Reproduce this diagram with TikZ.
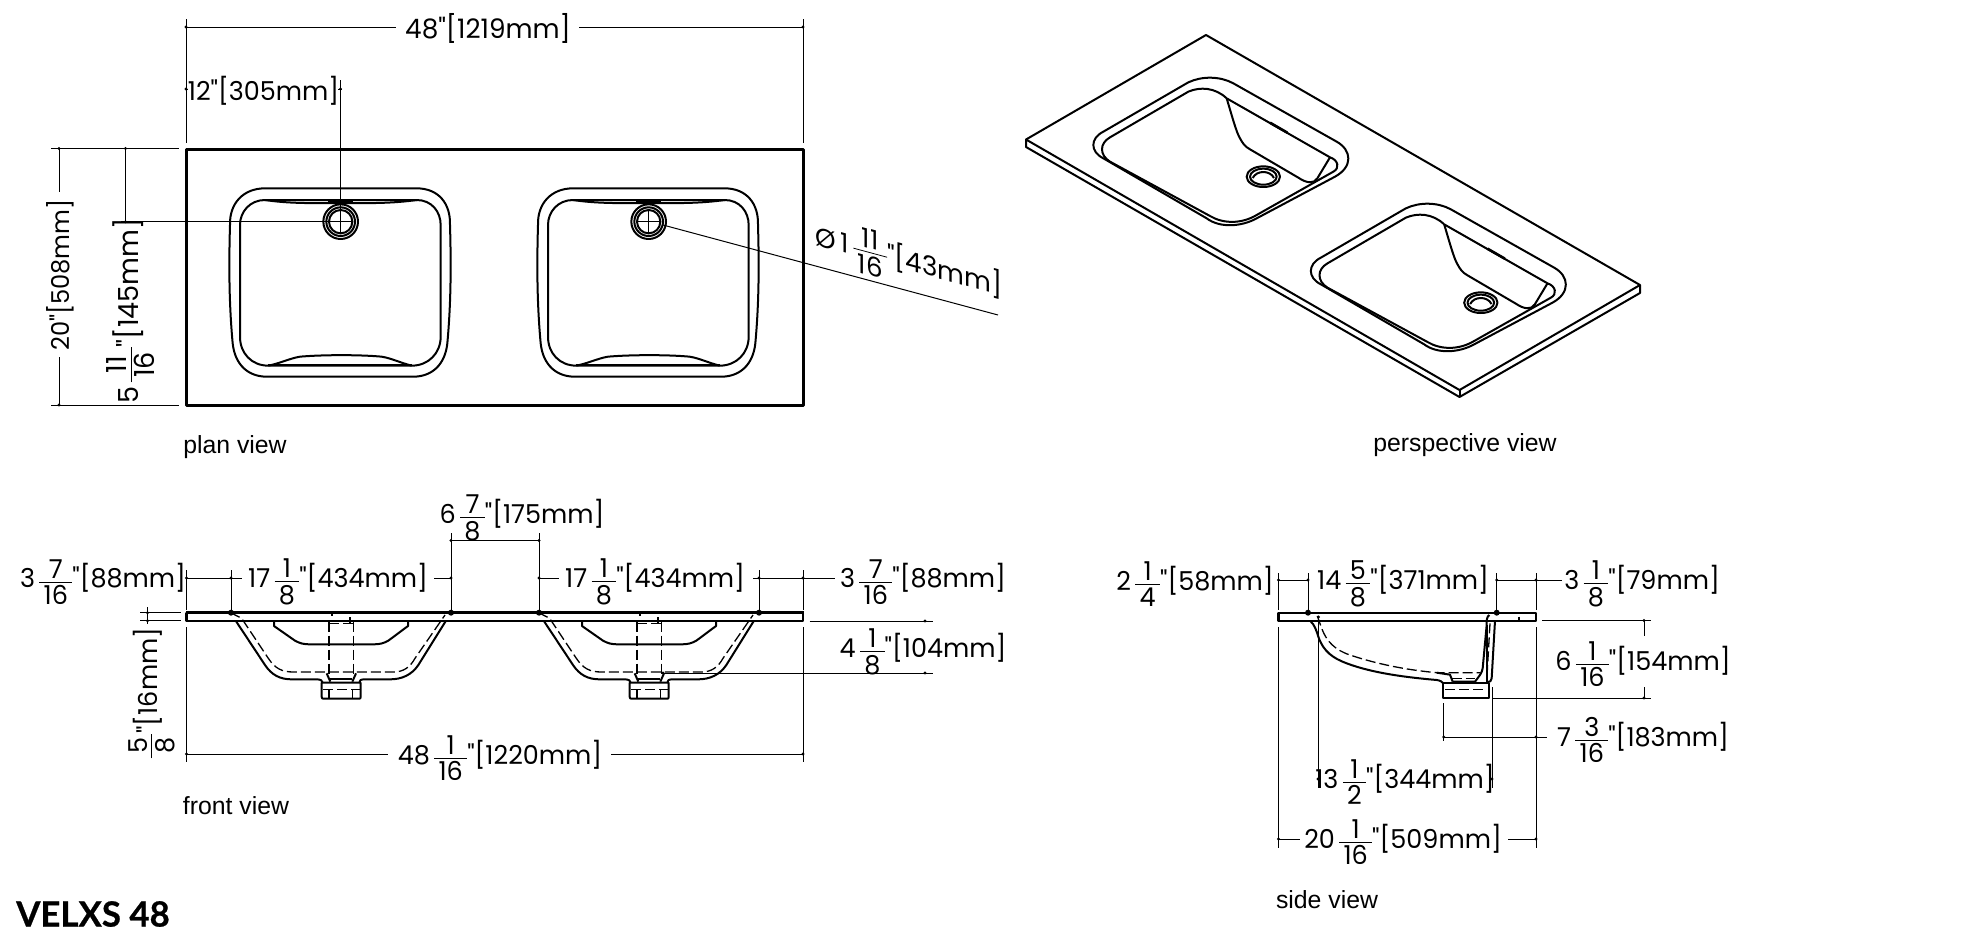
\documentclass[tikz,border=0pt]{standalone}
\usepackage{fontspec}
\setmainfont{Liberation Sans}
\newfontfamily\dimf[FakeStretch=0.98]{Poppins}
\newfontfamily\titlef[BoldFeatures={FakeBold=0.7}]{Lato}
\nulldelimiterspace=0pt
\newcommand\fr[2]{\ensuremath{\textstyle\frac{\mbox{\rule[-0.1em]{0pt}{0.1em}\,#1\,}}{\mbox{\rule{0pt}{0.82em}\,#2\,}}}}
\tikzset{
  dimlab/.style={inner sep=0pt,font=\dimf\fontsize{13}{15}\selectfont,anchor=center},
  viewlab/.style={inner sep=0pt,font=\fontsize{12.4}{14}\selectfont,anchor=center},
  dimln/.style={line width=0.5pt,black},
  body/.style={line width=1pt,line join=round},
  slab/.style={line width=1.15pt,line join=round},
  hid/.style={line width=0.65pt,dash pattern=on 5pt off 2pt},
  heavy/.style={line width=1.3pt}
}
\newcommand\dt[1]{\fill (#1) circle (1.7);}
\newcommand\bigdt[1]{\fill (#1) circle (3);}
\newcommand\planbowl[1]{%
\begin{scope}[shift={(210+#1,170)},scale=1/3]
 \draw[body] (165,55) -- (620,55) .. controls (685,55) and (722,100) .. (720,165) .. controls (724,300) and (722,410) .. (712,520) .. controls (705,585) and (665,620) .. (610,620) -- (170,620) .. controls (115,620) and (75,585) .. (68,520) .. controls (58,410) and (56,300) .. (60,165) .. controls (58,100) and (100,55) .. (165,55) -- cycle;
 \draw[body] (165,90) -- (620,90) .. controls (665,90) and (692,125) .. (692,165) -- (692,500) .. controls (692,550) and (655,587) .. (605,587) -- (175,587) .. controls (125,587) and (90,550) .. (90,500) -- (90,165) .. controls (90,125) and (120,90) .. (165,90) -- cycle;
 \draw[body] (165,90) .. controls (230,100) and (300,100) .. (392,99) .. controls (480,100) and (550,100) .. (620,90);
 \draw[heavy] (355,91) -- (428,91);
 \draw[heavy] (175,585) -- (605,585);
 \draw[body] (175,587) .. controls (210,580) and (240,565) .. (270,560) .. controls (340,554) and (450,554) .. (515,560) .. controls (545,565) and (570,578) .. (605,587);
 \draw[body] (392,155) circle (52);
 \draw[body] (392,155) circle (43);
 \draw[body] (392,155) circle (35);
\end{scope}}
\newcommand\perspbowl[2]{%
\begin{scope}[shift={(1060+#1,50+#2)},scale=1/3]
 \draw[body] (385,97) .. controls (425,78) and (480,78) .. (520,100) -- (830,275) .. controls (875,300) and (880,350) .. (825,380) -- (590,505) .. controls (545,530) and (480,535) .. (440,505) -- (130,325) .. controls (90,305) and (90,265) .. (130,245) -- cycle;
 \draw[body] (385,125) .. controls (420,110) and (465,112) .. (500,145) -- (810,322) .. controls (835,330) and (840,355) .. (820,365) -- (590,495) .. controls (545,522) and (490,522) .. (450,498) -- (150,335) .. controls (118,315) and (118,280) .. (150,262) -- cycle;
 \draw[body] (500,145) .. controls (515,195) and (530,250) .. (540,265) .. controls (548,280) and (555,290) .. (570,298) -- (715,383) .. controls (740,400) and (762,402) .. (772,385) -- (810,322);
 \draw[heavy] (630,218) -- (682,248);
 \draw[body] (610,380) ellipse (50 and 31);
 \draw[body] (610,380) ellipse (40 and 24);
 \draw[body] (578,384) .. controls (590,360) and (630,360) .. (642,384);
\end{scope}}
\newcommand\frontbowl[1]{%
\begin{scope}[shift={(170+#1,590)},scale=1/3]
 \draw[body] (197,92) -- (285,225) .. controls (305,255) and (330,268) .. (365,268) -- (440,268) .. controls (452,268) and (458,272) .. (458,278);
 \draw[body] (828,92) -- (745,225) .. controls (725,255) and (695,268) .. (660,268) -- (582,268) .. controls (572,268) and (568,272) .. (568,278);
 \draw[body] (455,278) -- (455,320) .. controls (455,325) and (457,326) .. (460,326) -- (568,326) .. controls (571,326) and (572,325) .. (572,320) -- (572,278) -- cycle;
 \draw[body] (470,250) -- (481,275);
 \draw[body] (558,250) -- (547,275);
 \draw[body] (481,268) -- (547,268);
 \draw[body] (312,92) -- (312,108) -- (375,152) .. controls (390,160) and (400,163) .. (420,163) -- (610,163) .. controls (630,163) and (640,160) .. (655,152) -- (714,108) -- (714,92);
 \draw[hid] (182,68) -- (215,85) -- (295,205) .. controls (315,235) and (335,246) .. (370,246) -- (670,246) .. controls (700,246) and (720,232) .. (735,205) -- (825,75);
 \draw[hid] (477,95) -- (477,268);
 \draw[hid] (551,95) -- (551,268);
 \draw[hid] (477,100) -- (551,100);
 \draw[hid] (460,298) -- (570,298);
 \draw[hid] (477,300) -- (477,325);
 \draw[hid] (548,300) -- (548,325);
 \draw[body] (487,70) -- (487,78);
 \draw[body] (541,82) -- (541,100);
\end{scope}}
\begin{document}
\begin{tikzpicture}[x=0.5pt,y=-0.5pt]
\useasboundingbox (0,0) rectangle (1980,942);
% ---------- plan view
\draw[slab,line width=1.5pt] (186,149) rectangle (803,405.5);
\planbowl{0}
\planbowl{308}
\draw[dimln] (186,19) -- (186,143) (803,19) -- (803,143);
\node[dimlab,font=\dimf\fontsize{13.4}{15}\selectfont] (a48) at (488,28) {48"[1219mm]};
\draw[dimln] (186,27) -- (396,27) (579,27) -- (803,27);
\dt{186,27}\dt{803,27}
\node[dimlab] (a12) at (263.5,91) {12"[305mm]};
\draw[dimln] (340.5,80) -- (340.5,234);
\draw[dimln] (185,89) -- (188,89) (338,89) -- (342,89);
\dt{186,89}\dt{340.5,89}
\draw[dimln] (51,148.5) -- (179,148.5) (51,405) -- (179,405);
\draw[dimln] (59,148.5) -- (59,192) (59,357) -- (59,405);
\dt{59,148.5}\dt{59,405}
\node[dimlab,font=\dimf\fontsize{12.3}{14}\selectfont,rotate=90] (a20) at (60,275) {20"[508mm]};
\draw[dimln] (125.5,148.5) -- (125.5,221.7);
\draw[dimln] (121,221.7) -- (352,221.7);
\dt{125.5,148.5}\dt{125.5,221.7}
\node[dimlab,font=\dimf\fontsize{13.8}{16}\selectfont,rotate=90] (a5) at (131,311) {5\,\fr{11}{16}"[145mm]};
\draw[dimln] (636,221.7) -- (660,221.7) (648.5,209) -- (648.5,234);
\draw[dimln] (663,225) -- (998,315);
\node[dimlab,font=\dimf\fontsize{13.3}{16}\selectfont,yslant=-0.27] (adia) at (909,263) {Ø\,1\,\fr{11}{16}"[43mm]};
\node[viewlab] (lplan) at (235,447.5) {plan view};
% ---------- perspective view
\draw[body] (1206,35) -- (1640,285) -- (1640,293) -- (1459.5,397) -- (1026,147) -- (1026,139.5) -- cycle;
\draw[body] (1026,139.5) -- (1459.5,390) -- (1640,285);
\draw[body] (1459.5,390) -- (1459.5,397);
\perspbowl{0}{0}
\perspbowl{217.5}{126}
\node[viewlab] (lpersp) at (1465,445.5) {perspective view};
% ---------- front view
\draw[slab] (186.5,620.7) rectangle (803,612.7);
\draw[line width=1.4pt] (186,612.5) -- (803.5,612.5);
\frontbowl{0}
\frontbowl{308}
\bigdt{231,612.7}\bigdt{451,612.7}\bigdt{539,612.7}\bigdt{759,612.7}
\draw[dimln] (186.5,570) -- (186.5,610) (803,570) -- (803,610) (231,570) -- (231,610) (451,533) -- (451,610) (539,533) -- (539,610) (759,570) -- (759,610);
\node[dimlab] (f1) at (103,582) {3\,\fr{7}{16}"[88mm]};
\node[dimlab] (f2) at (338,582) {17\,\fr{1}{8}"[434mm]};
\node[dimlab] (f3) at (655,582) {17\,\fr{1}{8}"[434mm]};
\node[dimlab] (f4) at (923,582) {3\,\fr{7}{16}"[88mm]};
\node[dimlab] (f5) at (522,518) {6\,\fr{7}{8}"[175mm]};
\draw[dimln] (186.5,578) -- (242,578) (434,578) -- (451,578) (539,578) -- (559,578) (753,578) -- (835,578) (451,540.5) -- (539,540.5);
\dt{186.5,578}\dt{231,578}\dt{451,578}\dt{539,578}\dt{759,578}\dt{803,578}\dt{451,540.5}\dt{539,540.5}
\draw[dimln] (140,612.7) -- (181,612.7) (140,620.7) -- (181,620.7) (147.5,607) -- (147.5,624);
\dt{147.5,612.7}\dt{147.5,620.7}
\node[dimlab,rotate=90] (f6) at (152,693) {\fr{5}{8}"[16mm]};
\draw[dimln] (186.5,627) -- (186.5,762) (803,627) -- (803,762);
\node[dimlab] (f7) at (500,758) {48\,\fr{1}{16}"[1220mm]};
\draw[dimln] (186.5,754) -- (388,754) (611,754) -- (803,754);
\dt{186.5,754}\dt{803,754}
\draw[dimln] (809.5,621) -- (933,621) (663,673) -- (933,673);
\dt{925,621}\dt{925,673}\dt{663,673}
\node[dimlab] (f8) at (923,652) {4\,\fr{1}{8}"[104mm]};
\node[viewlab] (lfront) at (236,806) {front view};
\node[inner sep=0pt,font=\titlef\bfseries\fontsize{17.4}{20}\selectfont] (title) at (93,914) {VELXS 48};
% ---------- side view
\draw[slab] (1278.5,612.7) rectangle (1536,620.7);
\begin{scope}[shift={(1260,600)},scale=1/3]
 \draw[body] (150,62) .. controls (165,75) and (170,95) .. (175,110) .. controls (190,155) and (220,175) .. (260,190) .. controls (340,220) and (440,232) .. (530,240) .. controls (540,241) and (548,246) .. (550,250);
 \draw[body] (705,62) -- (695,235) .. controls (694,243) and (690,246) .. (684,246);
 \draw[body] (550,248) -- (550,295) -- (688,295) -- (688,248) -- cycle;
 \draw[body] (530,218) -- (570,224) -- (578,245);
 \draw[body] (578,245) -- (645,245) .. controls (660,225) and (665,220) .. (668,205) -- (680,75) .. controls (680,60) and (680,50) .. (688,45);
 \draw[body] (680,75) -- (680,245);
 \draw[hid] (172,48) -- (185,85) .. controls (200,125) and (225,150) .. (270,165) .. controls (350,192) and (440,210) .. (530,218) -- (660,218);
 \draw[hid] (690,70) -- (680,245);
 \draw[hid] (575,235) -- (645,235);
 \draw[hid] (555,268) -- (680,268);
 \draw[body] (778,50) -- (778,60);
\end{scope}
\bigdt{1308,612.7}\bigdt{1496.7,612.7}\dt{1318.5,617}
\draw[dimln] (1278.5,573) -- (1278.5,610) (1536,573) -- (1536,610) (1308,573) -- (1308,610) (1496.7,573) -- (1496.7,610);
\node[dimlab] (s1) at (1195,584) {2\,\fr{1}{4}"[58mm]};
\node[dimlab] (s2) at (1403,584) {14\,\fr{5}{8}"[371mm]};
\node[dimlab] (s3) at (1642,584) {3\,\fr{1}{8}"[79mm]};
\draw[dimln] (1278.5,580) -- (1308,580) (1496.7,580) -- (1562,580);
\dt{1278.5,580}\dt{1308,580}\dt{1496.7,580}\dt{1536,580}
\draw[dimln] (1542,620.5) -- (1651,620.5) (1493,698) -- (1651,698) (1644,620.5) -- (1644,636) (1644,687) -- (1644,698);
\dt{1644,620.5}\dt{1644,698}
\node[dimlab] (s4) at (1643,664) {6\,\fr{1}{16}"[154mm]};
\draw[dimln] (1443.7,703) -- (1443.7,741) (1492,687) -- (1492,788) (1443.7,737) -- (1547,737);
\dt{1443.7,737}\dt{1536,737}
\node[dimlab] (s5) at (1643,740) {7\,\fr{3}{16}"[183mm]};
\draw[dimln] (1318,617) -- (1318,788);
\dt{1318,779}\dt{1492,779}
\node[dimlab] (s6) at (1405,782) {13\,\fr{1}{2}"[344mm]};
\draw[dimln] (1278.5,627) -- (1278.5,848) (1536,627) -- (1536,848);
\node[dimlab] (s7) at (1403,842) {20\,\fr{1}{16}"[509mm]};
\draw[dimln] (1278.5,839) -- (1300,839) (1508,839) -- (1536,839);
\dt{1278.5,839}\dt{1536,839}
\node[viewlab] (lside) at (1327,900) {side view};
\end{tikzpicture}
\end{document}
